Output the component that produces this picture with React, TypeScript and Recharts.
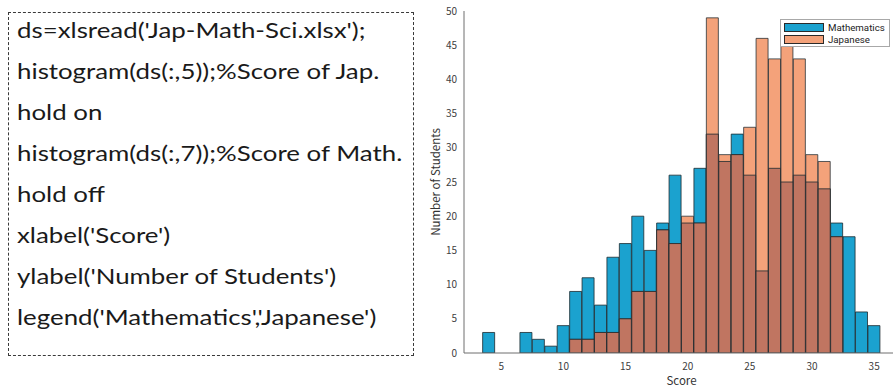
import React from 'react';
import { ComposedChart, Bar, XAxis, YAxis, Legend } from 'recharts';

// ---- data ----
const scoreBins = [4, 5, 6, 7, 8, 9, 10, 11, 12, 13, 14, 15, 16, 17, 18, 19, 20, 21, 22, 23, 24, 25, 26, 27, 28, 29, 30, 31, 32, 33, 34, 35];
const mathematics = [3, 0, 0, 3, 2, 1, 4, 9, 11, 7, 14, 16, 20, 15, 19, 26, 19, 27, 32, 28, 32, 26, 12, 27, 25, 26, 25, 24, 19, 17, 6, 4];
const japanese = [0, 0, 0, 0, 0, 0, 0, 2, 2, 3, 3, 5, 9, 9, 18, 16, 20, 19, 49, 29, 29, 33, 46, 43, 45, 43, 29, 28, 17, 0, 0, 0];
const xTicks = [5, 10, 15, 20, 25, 30, 35];
const yTicks = [0, 5, 10, 15, 20, 25, 30, 35, 40, 45, 50];
const seriesNames = ['Mathematics', 'Japanese'];
const codeLines = [
  "ds=xlsread('Jap-Math-Sci.xlsx');",
  'histogram(ds(:,5));%Score of Jap.',
  'hold on',
  'histogram(ds(:,7));%Score of Math.',
  'hold off',
  "xlabel('Score')",
  "ylabel('Number of Students')",
  "legend('Mathematics','Japanese')",
];

const rows = scoreBins.map((s, i) => ({
  score: s,
  math: mathematics[i],
  jap: japanese[i],
  both: Math.min(mathematics[i], japanese[i]),
}));

const BLUE = '#1BA2CF';
const ORANGE = '#F4A27A';
const BROWN = '#C07561';
const EDGE = '#1e2a30';
const AXIS = '#6f6f6f';
const TICKTXT = '#404040';
const FONT = '"Noto Sans CJK JP", "Noto Sans", sans-serif';

const legendItems = [
  { name: seriesNames[0], color: BLUE },
  { name: seriesNames[1], color: ORANGE },
];

function LegendBox() {
  return (
    <div
      style={{
        border: '1px solid #a8a8a8',
        background: '#fff',
        padding: '2px 3px 1px 3px',
        boxSizing: 'border-box',
        width: 110,
        fontFamily: 'Roboto, "Liberation Sans", sans-serif',
        fontSize: 9.7,
        color: '#222',
      }}
    >
      {legendItems.map((it) => (
        <div key={it.name} style={{ display: 'flex', alignItems: 'center', height: 11.5 }}>
          <div
            style={{
              width: 40,
              height: 9,
              boxSizing: 'border-box',
              background: it.color,
              border: '1px solid #2a2a2a',
              marginRight: 4,
              flexShrink: 0,
            }}
          />
          <span style={{ lineHeight: '9px' }}>{it.name}</span>
        </div>
      ))}
    </div>
  );
}

export default function App() {
  return (
    <div
      style={{
        position: 'absolute',
        left: 0,
        top: 0,
        width: 893,
        height: 387,
        overflow: 'hidden',
        background: '#fff',
      }}
    >
      <div
        style={{
          position: 'absolute',
          left: 8,
          top: 12,
          width: 406,
          height: 344,
          boxSizing: 'border-box',
          border: '1px dashed #3a3a3a',
        }}
      />
      <div
        style={{
          position: 'absolute',
          left: 17,
          top: 9,
          fontFamily: 'Lato, "Open Sans", sans-serif',
          fontSize: 22,
          lineHeight: '41px',
          color: '#1a1a1a',
          whiteSpace: 'pre',
          transform: 'scaleX(1.175)',
          transformOrigin: '0 0',
        }}
      >
        {codeLines.map((l, i) => (
          <div key={i}>{l}</div>
        ))}
      </div>

      <div style={{ position: 'absolute', left: 0, top: 0 }}>
        <ComposedChart
          width={899}
          height={387}
          data={rows}
          margin={{ top: 11, right: 0, bottom: 13, left: 433 }}
          barCategoryGap={0}
          barGap={0}
        >
          <XAxis
            xAxisId="m"
            dataKey="score"
            type="number"
            domain={[2, 37]}
            ticks={xTicks}
            allowDataOverflow
            height={21}
            tickLine={false}
            tickSize={0}
            tickMargin={10}
            axisLine={{ stroke: AXIS }}
            tick={{ fill: TICKTXT, fontSize: 10, fontFamily: FONT }}
            label={{ value: 'Score', position: 'bottom', offset: 3, fill: '#333', fontSize: 11.5, fontFamily: FONT }}
          />
          <XAxis
            xAxisId="j"
            dataKey="score"
            type="number"
            domain={[2, 37]}
            ticks={xTicks}
            allowDataOverflow
            orientation="bottom"
            mirror
            height={0}
            tick={false}
            axisLine={false}
            tickLine={{ stroke: AXIS }}
            tickSize={4}
          />
          <XAxis
            xAxisId="o"
            dataKey="score"
            type="number"
            domain={[2, 37]}
            ticks={xTicks}
            allowDataOverflow
            orientation="top"
            mirror
            height={0}
            tick={false}
            axisLine={{ stroke: AXIS }}
            tickLine={{ stroke: AXIS }}
            tickSize={4}
          />
          <YAxis
            type="number"
            domain={[0, 50]}
            ticks={yTicks}
            allowDataOverflow
            width={31}
            tickLine={false}
            tickSize={0}
            tickMargin={7}
            axisLine={{ stroke: AXIS }}
            tick={{ fill: TICKTXT, fontSize: 10, fontFamily: FONT }}
            label={{
              value: 'Number of Students',
              angle: -90,
              position: 'insideLeft',
              offset: 3,
              fill: '#333',
              fontSize: 11.5,
              fontFamily: FONT,
              style: { textAnchor: 'middle' },
            }}
          />
          <YAxis
            yAxisId="t"
            type="number"
            domain={[0, 50]}
            ticks={yTicks}
            allowDataOverflow
            mirror
            width={0}
            tick={false}
            axisLine={false}
            tickLine={{ stroke: AXIS }}
            tickSize={4}
          />
          <Legend
            layout="vertical"
            align="center"
            verticalAlign="middle"
            wrapperStyle={{ left: 780, top: 19, width: 110 }}
            content={() => <LegendBox />}
          />
          <Bar
            xAxisId="m"
            dataKey="math"
            name={seriesNames[0]}
            fill={BLUE}
            stroke={EDGE}
            strokeOpacity={0.8}
            strokeWidth={1}
            isAnimationActive={false}
          />
          <Bar
            xAxisId="j"
            dataKey="jap"
            name={seriesNames[1]}
            fill={ORANGE}
            stroke={EDGE}
            strokeOpacity={0.75}
            strokeWidth={1}
            isAnimationActive={false}
          />
          <Bar
            xAxisId="o"
            dataKey="both"
            legendType="none"
            fill={BROWN}
            stroke={EDGE}
            strokeOpacity={0.8}
            strokeWidth={1}
            isAnimationActive={false}
          />
        </ComposedChart>
      </div>
    </div>
  );
}
